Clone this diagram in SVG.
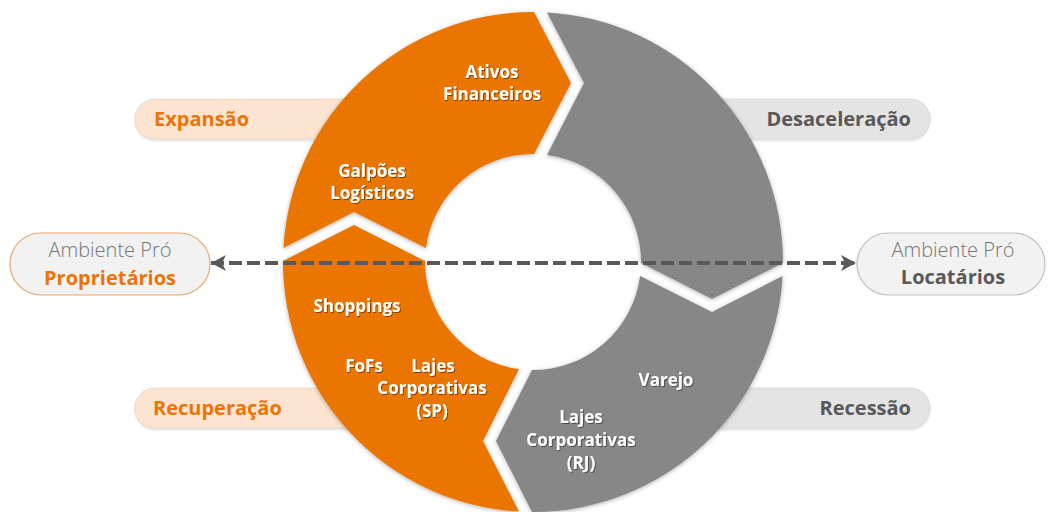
<svg xmlns="http://www.w3.org/2000/svg" width="1048" height="512" viewBox="0 0 1048 512">
<defs>
<style>
.seg-o{fill:#EA7406;}
.seg-g{fill:#878787;}
.seg{filter:url(#sh);}
.lbl{font-family:"Open Sans","Noto Sans",sans-serif;font-weight:700;font-size:17px;fill:#FFFFFF;text-anchor:middle;filter:url(#tsh);}
.ph{font-family:"Open Sans","Noto Sans",sans-serif;font-weight:700;font-size:20px;}
.pill-o{fill:#FCE4D0;stroke:#E2D6CC;stroke-width:0.8;filter:url(#psh);}
.pill-g{fill:#E4E4E4;stroke:#D4D4D4;stroke-width:0.8;filter:url(#psh);}
.amb{fill:#F2F2F2;stroke-width:1.2;}
.amb1{font-family:"Open Sans","Noto Sans",sans-serif;font-weight:300;font-size:20px;fill:#767676;text-anchor:middle;}
.amb2{font-family:"Open Sans","Noto Sans",sans-serif;font-weight:700;font-size:20px;text-anchor:middle;}
</style>
<filter id="sh" x="-10%" y="-10%" width="120%" height="120%">
<feDropShadow dx="0" dy="1" stdDeviation="2" flood-color="#000" flood-opacity="0.3"/>
</filter>
<filter id="psh" x="-10%" y="-20%" width="120%" height="150%">
<feDropShadow dx="0" dy="1.5" stdDeviation="1" flood-color="#000" flood-opacity="0.15"/>
</filter>
<filter id="tsh" x="-10%" y="-20%" width="120%" height="150%">
<feDropShadow dx="1" dy="1" stdDeviation="0.7" flood-color="#000" flood-opacity="0.45"/>
</filter>
<marker id="ah" viewBox="0 -9 16 18" markerWidth="16" markerHeight="18" refX="15" refY="0" orient="auto-start-reverse" markerUnits="userSpaceOnUse">
<path d="M0,-8 L15,0 L0,8 L4,0 Z" fill="#595959"/>
</marker>
</defs>
<rect width="1048" height="512" fill="#FFFFFF"/>

<g id="phase-pills">
<g id="expansao"><rect class="pill-o" x="135" y="99" width="300" height="40" rx="20"/><text class="ph" x="154" y="126" fill="#EA7406">Expansão</text></g>
<g id="desaceleracao"><rect class="pill-g" x="630" y="99" width="300" height="40" rx="20"/><text class="ph" x="911" y="126" fill="#595959" text-anchor="end">Desaceleração</text></g>
<g id="recuperacao"><rect class="pill-o" x="135" y="388" width="300" height="40" rx="20"/><text class="ph" x="153" y="415" fill="#EA7406">Recuperação</text></g>
<g id="recessao"><rect class="pill-g" x="630" y="388" width="300" height="40" rx="20"/><text class="ph" x="911" y="415" fill="#595959" text-anchor="end">Recessão</text></g>
</g>

<g id="ring">
<g id="seg-expansao">
<path class="seg seg-o" d="M283.39,248 A250,250 0 0 1 534,12 L571,83 L534,154 A108,108 0 0 0 425.91,248 L354,212 Z"/>
<text class="lbl" x="492" y="78">Ativos</text>
<text class="lbl" x="492" y="100">Financeiros</text>
<text class="lbl" x="372" y="177">Galpões</text>
<text class="lbl" x="372" y="199">Logísticos</text>
</g>
<g id="seg-desaceleracao">
<path class="seg seg-g" d="M547,12.39 A250,250 0 0 1 783,263 L712,299 L641,263 A108,108 0 0 0 547,154.91 L584,83 Z"/>
</g>
<g id="seg-recessao">
<path class="seg seg-g" d="M782.61,276 A250,250 0 0 1 532,512 L496,441 L532,370 A108,108 0 0 0 640.09,276 L712,312 Z"/>
<text class="lbl" x="666" y="386">Varejo</text>
<text class="lbl" x="581" y="423">Lajes</text>
<text class="lbl" x="581" y="446">Corporativas</text>
<text class="lbl" x="581" y="469">(RJ)</text>
</g>
<g id="seg-recuperacao">
<path class="seg seg-o" d="M519,511.61 A250,250 0 0 1 283,261 L354,225 L425,261 A108,108 0 0 0 519,369.09 L483,441 Z"/>
<text class="lbl" x="357" y="312">Shoppings</text>
<text class="lbl" x="364" y="372">FoFs</text>
<text class="lbl" x="433" y="372">Lajes</text>
<text class="lbl" x="432" y="394">Corporativas</text>
<text class="lbl" x="432" y="417">(SP)</text>
</g>
</g>

<g id="connectors">
<line x1="211" y1="263" x2="856" y2="263" stroke="#595959" stroke-width="4" stroke-dasharray="13 5" marker-start="url(#ah)" marker-end="url(#ah)"/>
</g>

<g id="ambiente-proprietarios">
<rect class="amb" x="10" y="233" width="200" height="62" rx="31" stroke="#EAA66A"/>
<text class="amb1" x="110" y="257">Ambiente Pró</text>
<text class="amb2" x="110" y="285" fill="#EA7406">Proprietários</text>
</g>
<g id="ambiente-locatarios">
<rect class="amb" x="857" y="233" width="188" height="62" rx="31" stroke="#BDBDBD"/>
<text class="amb1" x="953" y="257">Ambiente Pró</text>
<text class="amb2" x="953" y="284" fill="#595959">Locatários</text>
</g>
</svg>
